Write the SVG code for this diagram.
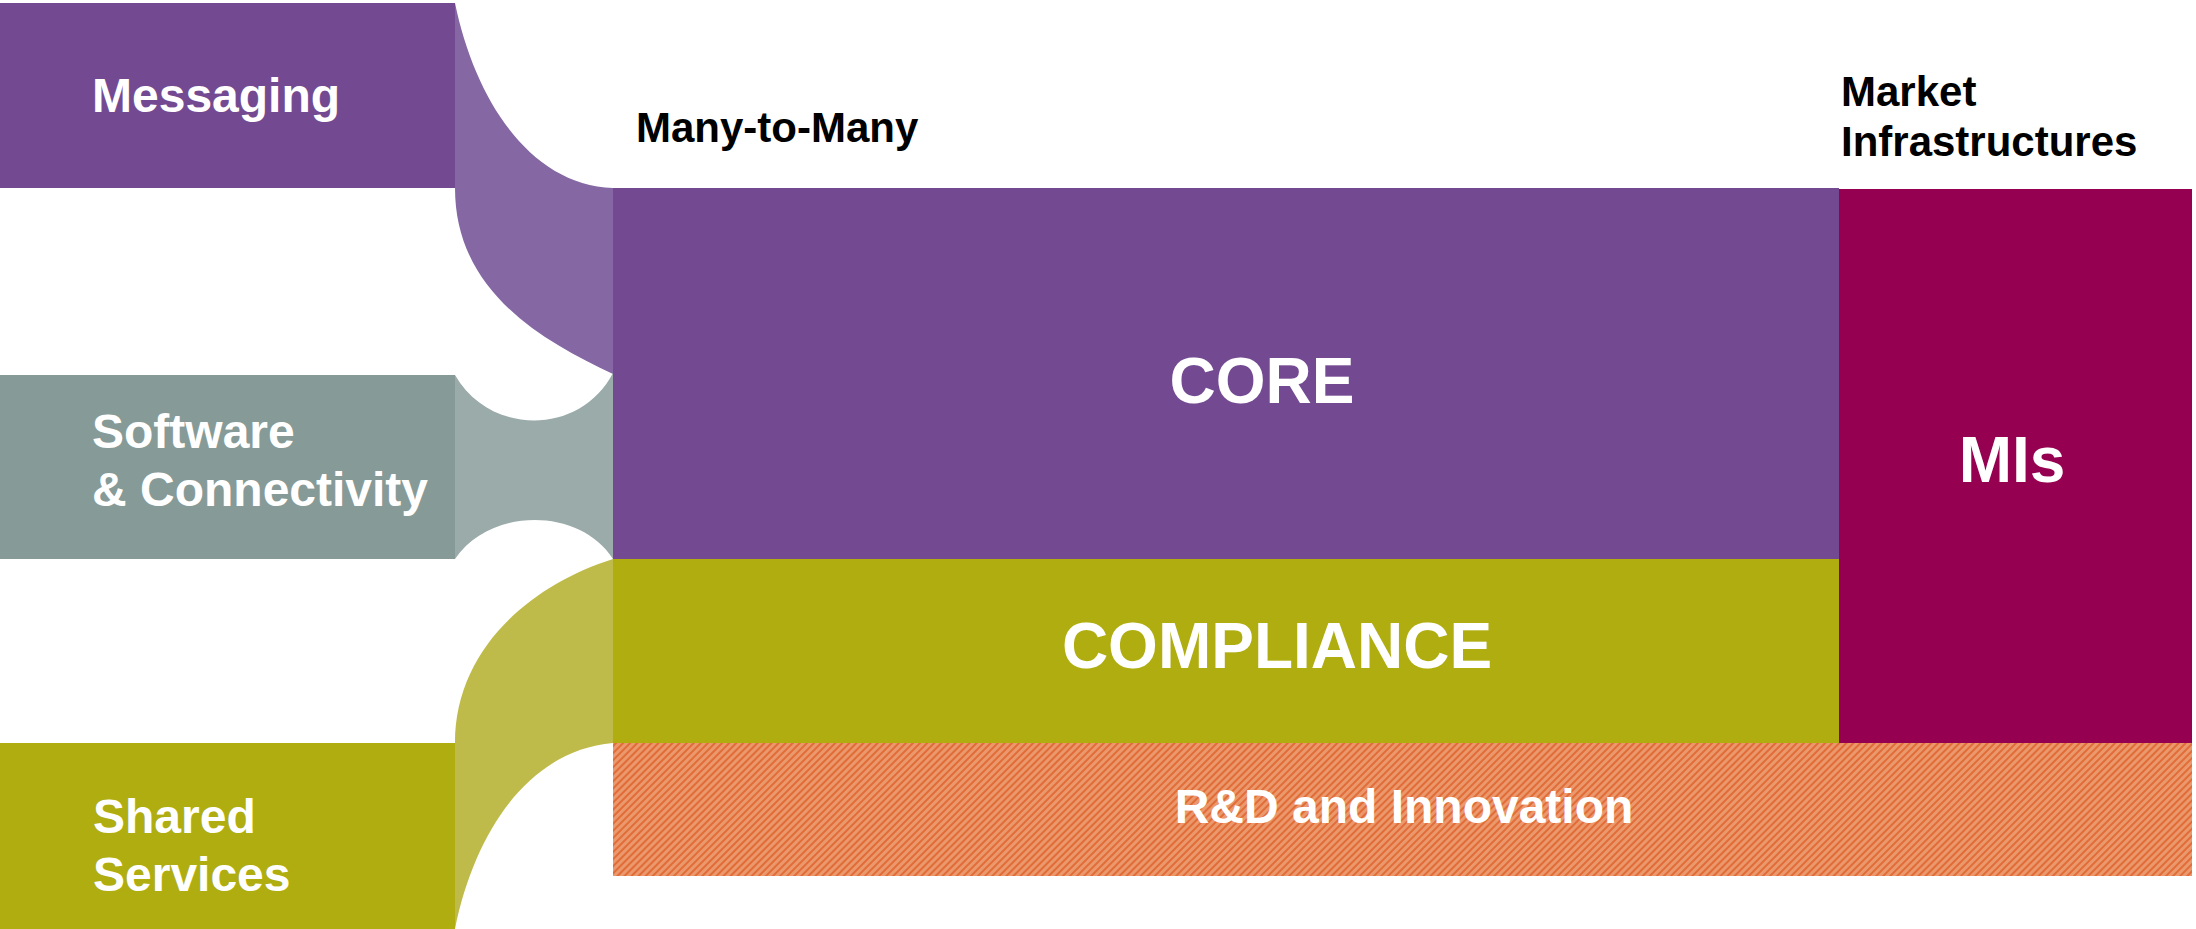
<svg xmlns="http://www.w3.org/2000/svg" width="2196" height="929" viewBox="0 0 2196 929">
<style>
.lbl{font-family:"Liberation Sans",Arial,sans-serif;font-weight:bold;fill:#ffffff}
.hdr{font-family:"Liberation Sans",Arial,sans-serif;font-weight:bold;fill:#000000;font-size:42px}
.s48{font-size:48px}
.s64{font-size:64px}
</style>
<defs>
<pattern id="hatch" width="5" height="5" patternUnits="userSpaceOnUse" patternTransform="rotate(45)">
<rect width="5" height="5" fill="#ea986c"/>
<rect width="2" height="5" fill="#df6129" opacity="0.8"/>
</pattern>
</defs>
<rect width="2196" height="929" fill="#ffffff"/>
<g id="connectors">
<path d="M455,3 C475,100 530,185 613,188 L613,374 C540,340 455,290 455,188 Z" fill="#8567a3"/>
<path d="M455,375 C490,436 580,436 613,373 L613,559 C580,507 490,507 455,559 Z" fill="#9aaba9"/>
<path d="M455,743 C455,650 530,585 613,559 L613,743 C530,750 475,830 455,929 Z" fill="#bfbb4a"/>
</g>
<g id="messaging">
<rect x="0" y="3" width="455" height="185" fill="#734a91"/>
<text class="lbl s48" x="92" y="112">Messaging</text>
</g>
<g id="software">
<rect x="0" y="375" width="455" height="184" fill="#869a97"/>
<text class="lbl s48" x="92" y="448">Software</text>
<text class="lbl s48" x="92" y="506">&amp; Connectivity</text>
</g>
<g id="shared">
<rect x="0" y="743" width="455" height="186" fill="#b0ad10"/>
<text class="lbl s48" x="93" y="833">Shared</text>
<text class="lbl s48" x="93" y="891">Services</text>
</g>
<g id="core">
<rect x="613" y="188" width="1226" height="371" fill="#734a91"/>
<text class="lbl s64" x="1262" y="403" text-anchor="middle">CORE</text>
</g>
<g id="compliance">
<rect x="613" y="559" width="1226" height="184" fill="#b0ad10"/>
<text class="lbl s64" x="1277" y="668" text-anchor="middle">COMPLIANCE</text>
</g>
<g id="mis">
<rect x="1839" y="189" width="353" height="554" fill="#960051"/>
<text class="lbl s64" x="2012" y="482" text-anchor="middle">MIs</text>
</g>
<g id="rnd">
<rect x="613" y="743" width="1579" height="133" fill="url(#hatch)"/>
<text class="lbl s48" x="1404" y="823" text-anchor="middle">R&amp;D and Innovation</text>
</g>
<g id="headers">
<text class="hdr" x="636" y="142">Many-to-Many</text>
<text class="hdr" x="1841" y="106">Market</text>
<text class="hdr" x="1841" y="156">Infrastructures</text>
</g>
</svg>
